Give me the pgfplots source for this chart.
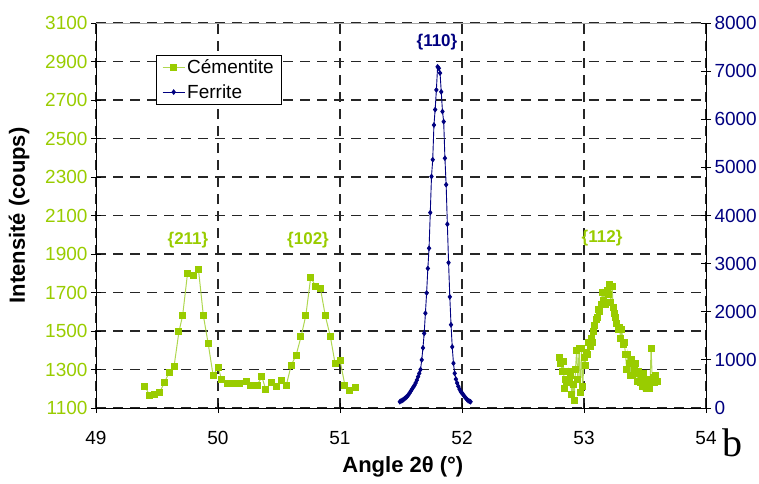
\documentclass[border=0pt]{standalone}
\usepackage{pgfplots}
\pgfplotsset{compat=1.18}
\usepackage{fontspec}
\setmainfont{Liberation Sans}
\newfontfamily\seriffont{Liberation Serif}
\definecolor{cgreen}{RGB}{153,204,0}
\definecolor{cline}{RGB}{175,215,80}
\definecolor{fnavy}{RGB}{0,0,128}

\pgfplotstableread{
x y
49.40 1214
49.44 1165
49.48 1169
49.52 1179
49.56 1231
49.60 1286
49.64 1317
49.68 1497
49.71 1580
49.75 1798
49.80 1788
49.84 1819
49.88 1580
49.92 1433
49.96 1269
50.00 1312
50.03 1248
50.08 1228
50.13 1228
50.18 1228
50.23 1236
50.27 1219
50.32 1219
50.36 1262
50.39 1198
50.44 1233
50.48 1210
50.52 1241
50.56 1219
50.60 1322
50.64 1374
50.68 1469
50.72 1581
50.76 1779
50.80 1733
50.84 1719
50.88 1578
50.92 1474
50.96 1331
51.00 1348
51.04 1219
51.08 1190
51.13 1205
52.00 nan
52.80 1360
52.81 1330
52.82 1290
52.83 1340
52.84 1200
52.85 1250
52.86 1240
52.87 1290
52.88 1230
52.89 1270
52.90 1170
52.91 1220
52.92 1140
52.93 1300
52.94 1400
52.95 1250
52.96 1410
52.97 1180
52.98 1410
52.99 1210
53.00 1360
53.01 1320
53.02 1390
53.03 1380
53.04 1440
53.05 1420
53.06 1460
53.07 1440
53.08 1500
53.09 1530
53.10 1560
53.11 1570
53.12 1610
53.13 1600
53.14 1640
53.15 1700
53.16 1660
53.17 1700
53.18 1640
53.19 1710
53.20 1690
53.21 1740
53.22 1650
53.23 1730
53.24 1620
53.25 1590
53.26 1570
53.27 1540
53.28 1510
53.29 1520
53.30 1460
53.31 1510
53.32 1430
53.33 1440
53.34 1380
53.35 1300
53.36 1380
53.37 1330
53.38 1270
53.39 1350
53.40 1270
53.41 1300
53.42 1330
53.43 1280
53.44 1240
53.45 1290
53.46 1230
53.47 1260
53.48 1210
53.49 1280
53.50 1220
53.51 1200
53.52 1250
53.53 1210
53.54 1200
53.55 1410
53.56 1240
53.57 1260
53.58 1230
53.59 1270
53.60 1240
}\cementite

\pgfplotstableread{
x y
51.49 130
51.50 145
51.51 160
51.52 175
51.53 195
51.54 215
51.55 240
51.56 270
51.57 310
51.58 350
51.59 390
51.60 430
51.61 470
51.62 520
51.63 580
51.64 650
51.65 720
51.66 800
51.67 1000
51.68 1250
51.69 1550
51.70 1970
51.71 2390
51.72 2900
51.73 3320
51.74 4060
51.75 4810
51.76 5160
51.77 5880
51.78 6200
51.79 6610
51.80 7090
51.81 7060
51.82 6960
51.83 6570
51.84 6160
51.85 5950
51.86 5190
51.87 4640
51.88 3820
51.89 3020
51.90 2310
51.91 1730
51.92 1270
51.93 930
51.94 720
51.95 600
51.96 520
51.97 450
51.98 390
51.99 340
52.00 310
52.01 280
52.02 240
52.03 210
52.04 180
52.05 155
52.06 140
52.07 130
}\ferrite

\begin{document}
\begin{tikzpicture}
\useasboundingbox (-96pt,-75pt) rectangle (663pt,408pt);
\begin{axis}[
  at={(0pt,0pt)}, anchor=south west,
  scale only axis, width=610pt, height=385pt,
  xmin=49, xmax=54, ymin=1100, ymax=3100,
  axis x line*=bottom, axis y line*=left,
  axis line style={-, black, line width=1pt},
  xtick={49,50,51,52,53,54}, ytick={1100,1300,...,3100},
  xtick align=center, ytick align=center, major tick length=10pt,
  tick style={black, line width=1pt},
  xmajorgrids, ymajorgrids,
  grid style={black!85, line width=1.4pt, dash pattern=on 10pt off 7pt},
  /pgf/number format/assume math mode=true,
  /pgf/number format/1000 sep={},
  tick label style={font=\fontsize{19}{22}\selectfont},
  yticklabel style={color=cgreen},
  xticklabel style={color=black, yshift=-15pt},
  xlabel={Angle 2θ (°)},
  ylabel={Intensité (coups)},
  xlabel style={font=\fontsize{22}{26}\selectfont\bfseries, at={(axis description cs:0.503,-0.153)}, anchor=center},
  ylabel style={font=\fontsize{22}{26}\selectfont\bfseries, at={(axis description cs:-0.126,0.5)}, anchor=center},
  unbounded coords=jump,
  clip=false,
]
\draw[gray!70, line width=1pt] (rel axis cs:0,1) -- (rel axis cs:1,1);
\addplot[cline, line width=1pt, mark=square*, mark size=3pt, mark options={cgreen, fill=cgreen}] table[x=x, y=y] {\cementite};
\node[font=\fontsize{17}{20}\selectfont\bfseries, text=cgreen] at (axis cs:49.754,1973) {\{211\}};
\node[font=\fontsize{17}{20}\selectfont\bfseries, text=cgreen] at (axis cs:50.738,1973) {\{102\}};
\node[font=\fontsize{17}{20}\selectfont\bfseries, text=cgreen] at (axis cs:53.148,1983) {\{112\}};
\node[font=\fontsize{17}{20}\selectfont\bfseries, text=fnavy] at (axis cs:51.795,3001) {\{110\}};
\node[font=\seriffont\fontsize{40}{40}\selectfont] at (axis cs:54.221,918) {b};
\end{axis}
\begin{axis}[
  at={(0pt,0pt)}, anchor=south west,
  scale only axis, width=610pt, height=385pt,
  xmin=49, xmax=54, ymin=0, ymax=8000,
  axis x line=none, axis y line*=right,
  axis line style={-, black, line width=1pt},
  ytick={0,1000,...,8000},
  ytick align=center, major tick length=10pt,
  tick style={black, line width=1pt},
  /pgf/number format/assume math mode=true,
  /pgf/number format/1000 sep={},
  yticklabel style={font=\fontsize{19}{22}\selectfont, color=fnavy},
  legend style={at={(0.098,0.918)}, anchor=north west, draw=black, line width=0.8pt, fill=white,
    font=\fontsize{19}{22}\selectfont, inner xsep=6pt, inner ysep=3pt, row sep=5pt},
  legend cell align=left,
  legend image code/.code={\draw[mark repeat=2, mark phase=2, #1] plot coordinates {(0pt,0pt) (11pt,0pt) (22pt,0pt)};},
]
\addlegendimage{cline, line width=1pt, mark=square*, mark size=3pt, mark options={cgreen, fill=cgreen}}
\addplot[fnavy, line width=0.9pt, mark=diamond*, mark size=2.2pt, mark options={fnavy, fill=fnavy}] table[x=x, y=y] {\ferrite};
\legend{Cémentite, Ferrite}
\end{axis}
\end{tikzpicture}
\end{document}
